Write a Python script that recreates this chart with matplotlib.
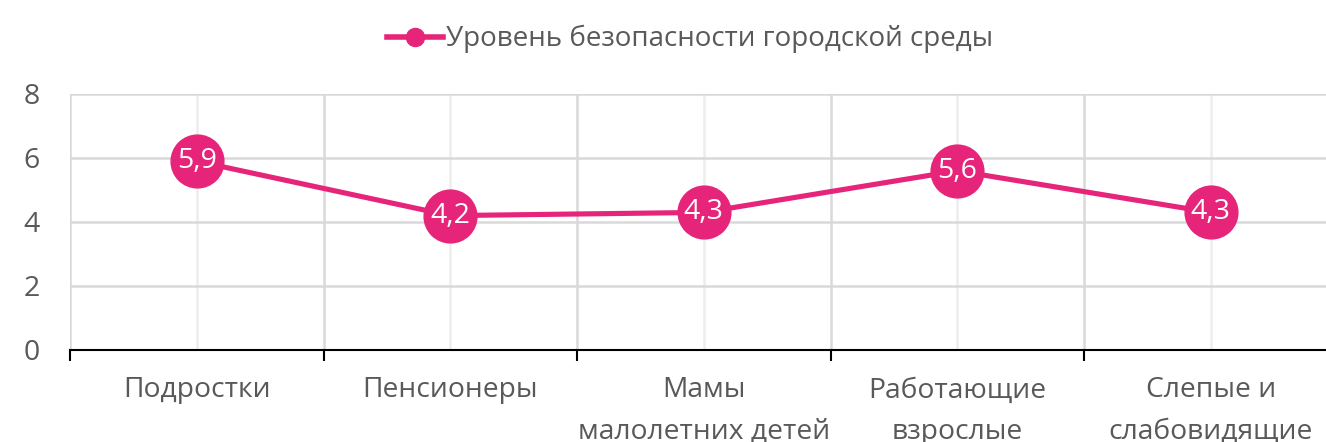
import numpy as np
import matplotlib
matplotlib.use("Agg")
import matplotlib.pyplot as plt
from matplotlib.lines import Line2D

# ── data ────────────────────────────────────────────────────────────────
categories = ["Подростки", "Пенсионеры", "Мамы\nмалолетних детей",
              "Работающие\nвзрослые", "Слепые и\nслабовидящие"]
values = [5.9, 4.2, 4.3, 5.6, 4.3]
series_name = "Уровень безопасности городской среды"
y_ticks = [0, 2, 4, 6, 8]

PINK = "#E6247A"
GREY_TXT = "#595959"

plt.rcParams["font.family"] = ["Open Sans", "DejaVu Sans"]

fig = plt.figure(figsize=(13.26, 4.42), dpi=100)
ax = fig.add_axes([70 / 1326, 92 / 442, 1267.5 / 1326, 256 / 442])

x = np.arange(len(values))
ax.plot(x, values, color=PINK, lw=3.7, marker="o", ms=38, zorder=3,
        solid_capstyle="round")
for xi, v in zip(x, values):
    ax.text(xi, v, f"{v:.1f}".replace(".", ","), color="white", fontsize=20.5,
            ha="center", va="center", zorder=4)

ax.set_xlim(-0.5, len(values) - 0.5)
ax.set_ylim(0, 8)
ax.set_yticks(y_ticks)

# boundaries get tick marks + strong grid, centers get labels + faint grid
ax.set_xticks(np.arange(len(values) + 1) - 0.5)
ax.set_xticklabels([])
ax.set_xticks(x, minor=True)
ax.set_xticklabels(categories, minor=True, fontsize=20.3, color=GREY_TXT,
                   linespacing=1.66, va="top")
ax.tick_params(axis="x", which="major", direction="out", length=8, width=1.5,
               color="black")
ax.tick_params(axis="x", which="minor", length=0, pad=19)
ax.tick_params(axis="y", length=0, pad=22, labelsize=20.5, labelcolor=GREY_TXT)

ax.grid(axis="y", color="#D9D9D9", lw=1.8, zorder=0)
ax.grid(axis="x", which="major", color="#D9D9D9", lw=1.8, zorder=0)
ax.grid(axis="x", which="minor", color="#EDEDED", lw=1.8, zorder=0)
ax.set_axisbelow(True)

for s in ["top", "right", "left"]:
    ax.spines[s].set_visible(False)
ax.spines["bottom"].set_color("black")
ax.spines["bottom"].set_linewidth(1.5)

handle = Line2D([], [], color=PINK, lw=4.0, marker="o", ms=13)
fig.legend([handle], [series_name], loc="upper center",
           bbox_to_anchor=(0.5204, 1.0), frameon=False, fontsize=20,
           labelcolor=GREY_TXT, handlelength=2.0, handletextpad=0.1)

fig.savefig("out.png", dpi=100)
